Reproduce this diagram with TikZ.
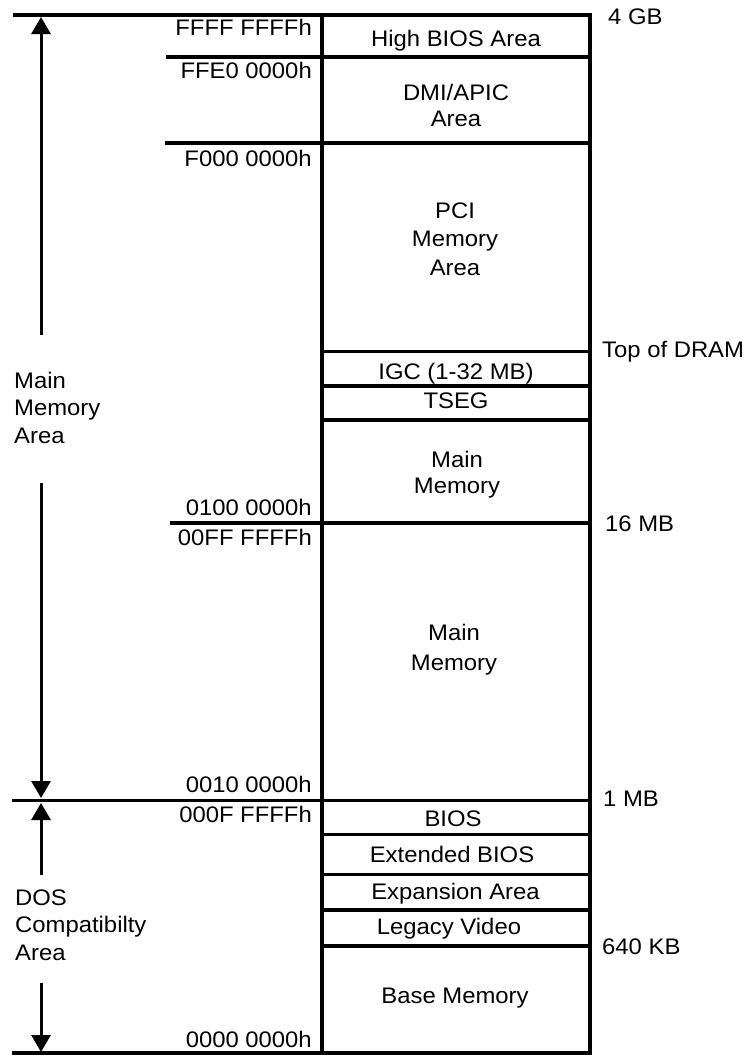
\documentclass[tikz,border=0pt]{standalone}
\usepackage{fontspec}
\setmainfont{Liberation Sans}[FakeStretch=1.06]
\usetikzlibrary{arrows.meta}
\tikzset{
txt/.style={inner sep=0pt,font=\fontsize{22.5}{27}\selectfont},
wall/.style={line width=3.2pt},
arr/.style={line width=3pt,-{Triangle[width=19pt,length=17pt]}}
}
\begin{document}
\begin{tikzpicture}[x=1pt,y=-1pt]
\path[use as bounding box] (0,0) rectangle (747,1055);
\draw[wall](13,15)--(590,15)--(590,1053)--(12,1053);
\draw[wall](322,15)--(322,1053);
\draw[wall](166,57)--(590,57);
\draw[wall](165,143)--(590,143);
\draw[wall](322,351.5)--(590,351.5);
\draw[wall](322,386)--(590,386);
\draw[wall](322,420)--(590,420);
\draw[wall](170,523)--(590,523);
\draw[wall](12,800.5)--(592,800.5);
\draw[wall](322,834.5)--(590,834.5);
\draw[wall](322,874.5)--(590,874.5);
\draw[wall](322,910)--(592,910);
\draw[wall](322,946)--(590,946);
\node[txt,anchor=base west](gb4) at (608,24.5){4 GB};
\node[txt,anchor=base west](dram) at (602,357){Top of DRAM};
\node[txt,anchor=base west](mb16) at (605,531){16 MB};
\node[txt,anchor=base west](mb1) at (603,806){1 MB};
\node[txt,anchor=base west](kb640) at (602,954.5){640 KB};
\node[txt,anchor=base east](a1) at (312,35){FFFF FFFFh};
\node[txt,anchor=base east](a2) at (312,78){FFE0 0000h};
\node[txt,anchor=base east](a3) at (312,166.5){F000 0000h};
\node[txt,anchor=base east](a4) at (312,515){0100 0000h};
\node[txt,anchor=base east](a5) at (312,545){00FF FFFFh};
\node[txt,anchor=base east](a6) at (312,792.5){0010 0000h};
\node[txt,anchor=base east](a7) at (312,822.5){000F FFFFh};
\node[txt,anchor=base east](a8) at (312,1047){0000 0000h};
\node[txt,anchor=base](hbios) at (456,46.5){High BIOS Area};
\node[txt,anchor=base](dmi1) at (456,100){DMI/APIC};
\node[txt,anchor=base](dmi2) at (456,126){Area};
\node[txt,anchor=base](pci1) at (455,218){PCI};
\node[txt,anchor=base](pci2) at (455,246){Memory};
\node[txt,anchor=base](pci3) at (455,275){Area};
\node[txt,anchor=base](igc) at (456,379){IGC (1-32 MB)};
\node[txt,anchor=base](tseg) at (456,408){TSEG};
\node[txt,anchor=base](mmu1) at (457,467){Main};
\node[txt,anchor=base](mmu2) at (457,493){Memory};
\node[txt,anchor=base](mml1) at (454,640){Main};
\node[txt,anchor=base](mml2) at (454,670){Memory};
\node[txt,anchor=base](bios) at (453,826){BIOS};
\node[txt,anchor=base](ebios) at (452,862){Extended BIOS};
\node[txt,anchor=base](exp) at (455.5,899.5){Expansion Area};
\node[txt,anchor=base](vid) at (449,934){Legacy Video};
\node[txt,anchor=base](base) at (455,1003){Base Memory};
\node[txt,anchor=base west](mma1) at (14,388){Main};
\node[txt,anchor=base west](mma2) at (14,415.5){Memory};
\node[txt,anchor=base west](mma3) at (14,443){Area};
\node[txt,anchor=base west](dos1) at (15,905){DOS};
\node[txt,anchor=base west](dos2) at (15,932.5){Compatibilty};
\node[txt,anchor=base west](dos3) at (15,960){Area};
\coordinate(mmup) at (41,335);
\coordinate(mmtop) at (41,17);
\coordinate(mmdown) at (41,483);
\coordinate(mmbot) at (41,798);
\coordinate(dosup) at (41,875);
\coordinate(dostop) at (41,803);
\coordinate(dosdown) at (41,983);
\coordinate(dosbot) at (41,1052);
\draw[arr](mmup)--(mmtop);
\draw[arr](mmdown)--(mmbot);
\draw[arr](dosup)--(dostop);
\draw[arr](dosdown)--(dosbot);
\end{tikzpicture}
\end{document}
